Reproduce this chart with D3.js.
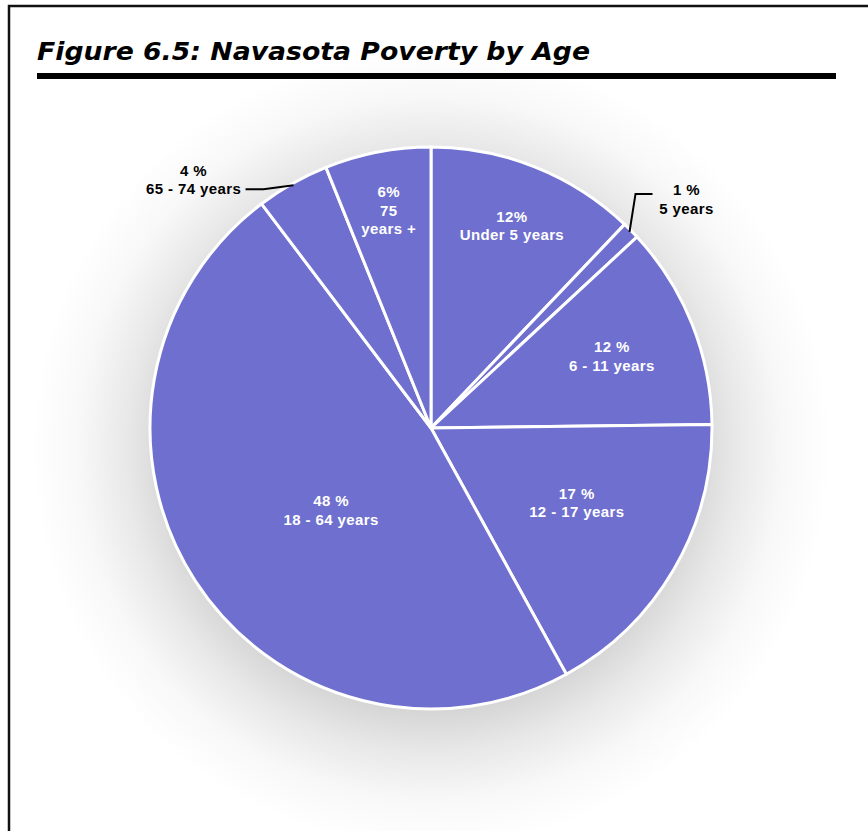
<!DOCTYPE html>
<html>
<head>
<meta charset="utf-8">
<script src="https://cdn.jsdelivr.net/npm/d3@7"></script>
<style>
  html, body { margin: 0; padding: 0; background: #fff; }
  svg { display: block; }
</style>
</head>
<body>
<div id="chart"></div>
<script>
// chart data
var title = 'Figure 6.5: Navasota Poverty by Age'
var categories = ['Under 5 years', '5 years', '6 - 11 years', '12 - 17 years', '18 - 64 years', '65 - 74 years', '75 years +']
var values = [12.1, 1.0, 11.7, 17.2, 47.7, 4.2, 6.1]
var pctLabels = ['12%', '1 %', '12 %', '17 %', '48 %', '4 %', '6%']
var nameLines = [['Under 5 years'], ['5 years'], ['6 - 11 years'], ['12 - 17 years'], ['18 - 64 years'], ['65 - 74 years'], ['75', 'years +']]

var w = 868
var h = 831
var cx = 431
var cy = 428
var radius = 281
var line_h = 18.5
var fill = '#6e6fce'

// label placement: inside labels sit on the slice mid angle at a fraction of the radius,
// outside ones hang off a leader line
var label_layout = [
  { r: 0.776, dx: 0, dy: 0 },
  { outside: true, ex: 6, ey: -38, len: 17, tx: 34, ty: 5 },
  { r: 0.693, dx: 0, dy: 0 },
  { r: 0.584, dx: 4, dy: -8 },
  { r: 0.47, dx: 11, dy: 10 },
  { outside: true, ex: -30, ey: 4, len: -18, tx: -52, ty: -9.5 },
  { r: 0.79, dx: 0, dy: 0 }
]

var svg = d3.select('#chart').append('svg')
  .attr('width', w)
  .attr('height', h)
  .attr('viewBox', [0, 0, w, h].join(' '))

// soft shadow behind the pie
var defs = svg.append('defs')
var grad = defs.append('radialGradient')
  .attr('id', 'shadow')
  .attr('gradientUnits', 'userSpaceOnUse')
  .attr('cx', cx).attr('cy', cy + 20).attr('r', 400)
grad.append('stop').attr('offset', 0.66).attr('stop-color', '#d6d6d6')
grad.append('stop').attr('offset', 0.76).attr('stop-color', '#e8e8e8')
grad.append('stop').attr('offset', 0.88).attr('stop-color', '#f8f8f8')
grad.append('stop').attr('offset', 1).attr('stop-color', '#ffffff')

svg.append('circle')
  .attr('cx', cx).attr('cy', cy + 20).attr('r', 400)
  .attr('fill', 'url(#shadow)')

// frame (only top and left edges fall inside the picture)
svg.append('path')
  .attr('d', 'M9,' + h + 'V6H' + w)
  .attr('fill', 'none')
  .attr('stroke', '#111')
  .attr('stroke-width', 2.5)

// title + rule
svg.append('text')
  .attr('x', 37)
  .attr('y', 60)
  .attr('textLength', 553)
  .attr('lengthAdjust', 'spacingAndGlyphs')
  .style('font-family', '"DejaVu Sans", Verdana, sans-serif')
  .style('font-weight', 'bold')
  .style('font-style', 'italic')
  .style('font-size', '25px')
  .attr('fill', '#000')
  .text(title)

svg.append('rect')
  .attr('x', 37).attr('y', 73)
  .attr('width', 799).attr('height', 6)
  .attr('fill', '#000')

// pie
var pie = d3.pie().sort(null).value(function (d) { return d })
var arcs = pie(values)
var arc = d3.arc().innerRadius(0).outerRadius(radius)

var g = svg.append('g').attr('transform', 'translate(' + cx + ',' + cy + ')')

g.selectAll('path.slice')
  .data(arcs)
  .enter().append('path')
  .attr('class', 'slice')
  .attr('d', arc)
  .attr('fill', fill)
  .attr('stroke', '#fff')
  .attr('stroke-width', 3)
  .attr('stroke-linejoin', 'round')

function polar (a, r) {
  return [Math.sin(a) * r, -Math.cos(a) * r]
}

arcs.forEach(function (d, i) {
  var lay = label_layout[i]
  var mid = (d.startAngle + d.endAngle) / 2
  var lines = [pctLabels[i]].concat(nameLines[i])
  var px, py, color

  if (lay.outside) {
    var p0 = polar(mid, radius - 2)
    var p1 = [p0[0] + lay.ex, p0[1] + lay.ey]
    var p2 = [p1[0] + lay.len, p1[1]]
    g.append('path')
      .attr('d', d3.line()([p0, p1, p2]))
      .attr('fill', 'none')
      .attr('stroke', '#000')
      .attr('stroke-width', 2)
    px = p2[0] + lay.tx
    py = p2[1] + lay.ty
    color = '#000'
  } else {
    var c = polar(mid, radius * lay.r)
    px = c[0] + lay.dx
    py = c[1] + lay.dy
    color = '#fff'
  }

  var t = g.append('text')
    .attr('text-anchor', 'middle')
    .attr('fill', color)
    .style('font-family', '"Liberation Sans", Arial, sans-serif')
    .style('font-weight', 'bold')
    .style('font-size', '15px')
    .style('letter-spacing', '0.4px')

  lines.forEach(function (s, k) {
    t.append('tspan')
      .attr('x', px)
      .attr('y', py + (k - (lines.length - 1) / 2) * line_h + 5.5)
      .text(s)
  })
})
</script>
</body>
</html>
